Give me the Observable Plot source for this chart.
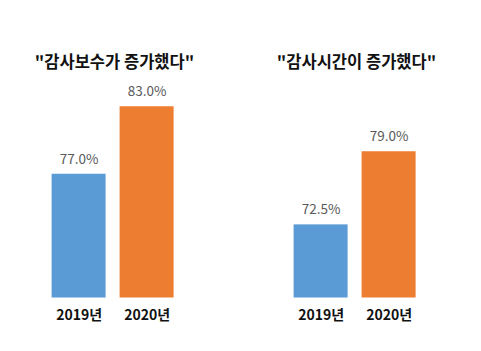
<!DOCTYPE html>
<html><head><meta charset="utf-8">
<script src="https://cdn.jsdelivr.net/npm/d3@7"></script>
<script src="https://cdn.jsdelivr.net/npm/@observablehq/plot@0.6"></script>
<style>body{margin:0;background:#fff}</style>
</head><body><div id="chart"></div>
<script>
const panelTitles = ['"감사보수가 증가했다"', '"감사시간이 증가했다"'];
const years = ["2019년", "2020년"];
const feeValues = [77.0, 83.0];
const hourValues = [72.5, 79.0];
const colors = ["#5B9BD5", "#ED7D31"];
const baseline = 66;

const rows = [];
[feeValues, hourValues].forEach((vals, i) =>
  vals.forEach((v, j) => rows.push({panel: panelTitles[i], year: years[j], value: v})));
const titles = panelTitles.map(t => ({panel: t}));

const chart = Plot.plot({
  width: 481, height: 351,
  marginTop: 27.5, marginBottom: 53.5, marginLeft: 12.4, marginRight: 26.3,
  style: {fontFamily: '"Noto Sans CJK KR", sans-serif', background: "#fff", color: "#111"},
  fx: {domain: panelTitles, paddingInner: 0.1746, paddingOuter: 0, axis: null},
  x: {domain: years, paddingInner: 0.2, paddingOuter: 0.557, label: null},
  y: {domain: [baseline, 90], axis: null},
  color: {domain: years, range: colors},
  marks: [
    Plot.barY(rows, {fx: "panel", x: "year", y1: baseline, y2: "value", fill: "year"}),
    Plot.text(rows, {fx: "panel", x: "year", y: "value", text: d => d.value.toFixed(1) + "%", dy: -15, fontSize: 13.5, fill: "#595959"}),
    Plot.text(titles, {fx: "panel", text: "panel", frameAnchor: "top", dy: 28, dx: 1, fontSize: 16.5, fontWeight: "bold", fill: "#111"}),
    Plot.axisX({tickSize: 0, tickPadding: 12, fontSize: 14, fontWeight: "bold", label: null})
  ]
});
document.getElementById("chart").append(chart);
</script>
</body></html>
